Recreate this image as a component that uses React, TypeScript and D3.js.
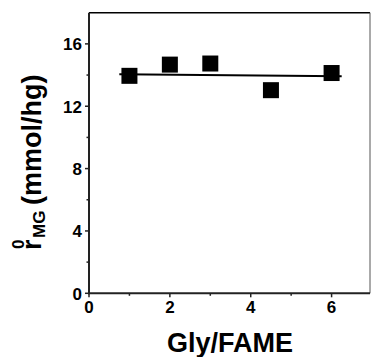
import React from "react";
import * as d3 from "d3";

const glyFame = [1, 2, 3, 4.5, 6];
const rMG = [13.95, 14.67, 14.74, 13.03, 14.13];
// fitted line (start / end)
const fitX = [0.75, 6.25];
const fitY = [14.05, 13.92];
const xMajor = [0, 2, 4, 6];
const xMinor = [1, 3, 5];
const yMajor = [0, 4, 8, 12, 16];
const yMinor = [2, 6, 10, 14];

const W = 371;
const H = 357;
const left = 89;
const right = 370;
const top = 12.7;
const bottom = 293.3;
const font = "'Liberation Sans', Arial, sans-serif";

export default function App() {
  const x = d3.scaleLinear().domain([0, 6.95]).range([left, right]);
  const y = d3.scaleLinear().domain([0, 18]).range([bottom, top]);
  const line = d3
    .line<number>()
    .x((d) => x(d))
    .y((d, i) => y(fitY[i]));
  const sq = 16;

  return (
    <svg
      width={W}
      height={H}
      style={{ position: "absolute", left: 0, top: 0, background: "#fff" }}
      fontFamily={font}
      fontWeight="bold"
    >
      {/* frame */}
      <line x1={left} x2={right} y1={top} y2={top} stroke="#000" strokeWidth={1.5} />
      <line x1={right} x2={right} y1={top} y2={bottom} stroke="#555" strokeWidth={1} />
      <line x1={left} x2={left} y1={top} y2={bottom + 1} stroke="#222" strokeWidth={2} />
      <line x1={left - 1} x2={right} y1={bottom} y2={bottom} stroke="#222" strokeWidth={2} />

      {/* x ticks */}
      {xMajor.map((d) => (
        <g key={`xt${d}`}>
          <line x1={x(d)} x2={x(d)} y1={bottom} y2={bottom + 4} stroke="#222" strokeWidth={1.5} />
          <text x={x(d)} y={313} textAnchor="middle" fontSize={17}>
            {d}
          </text>
        </g>
      ))}
      {xMinor.map((d) => (
        <line key={`xm${d}`} x1={x(d)} x2={x(d)} y1={bottom} y2={bottom + 2.5} stroke="#222" strokeWidth={1.5} />
      ))}

      {/* y ticks */}
      {yMajor.map((d) => (
        <g key={`yt${d}`}>
          <line x1={left - 4} x2={left} y1={y(d)} y2={y(d)} stroke="#222" strokeWidth={1.5} />
          <text x={82} y={y(d) + 6.3} textAnchor="end" fontSize={17}>
            {d}
          </text>
        </g>
      ))}
      {yMinor.map((d) => (
        <line key={`ym${d}`} x1={left - 2.5} x2={left} y1={y(d)} y2={y(d)} stroke="#222" strokeWidth={1.5} />
      ))}

      {/* fit line */}
      <path d={line(fitX) || ""} fill="none" stroke="#000" strokeWidth={2} />

      {/* points */}
      {glyFame.map((d, i) => (
        <rect key={`p${i}`} x={x(d) - sq / 2} y={y(rMG[i]) - sq / 2} width={sq} height={sq} fill="#000" />
      ))}

      {/* axis titles */}
      <text x={230} y={352} textAnchor="middle" fontSize={27}>
        Gly/FAME
      </text>
      <g transform="translate(41,250) rotate(-90)">
        <text x={0} y={0} fontSize={27}>
          r
        </text>
        <text x={1} y={-17} fontSize={17}>
          0
        </text>
        <text x={12} y={4} fontSize={17}>
          MG
        </text>
        <text x={45} y={0} fontSize={27}>
          (mmol/hg)
        </text>
      </g>
    </svg>
  );
}
